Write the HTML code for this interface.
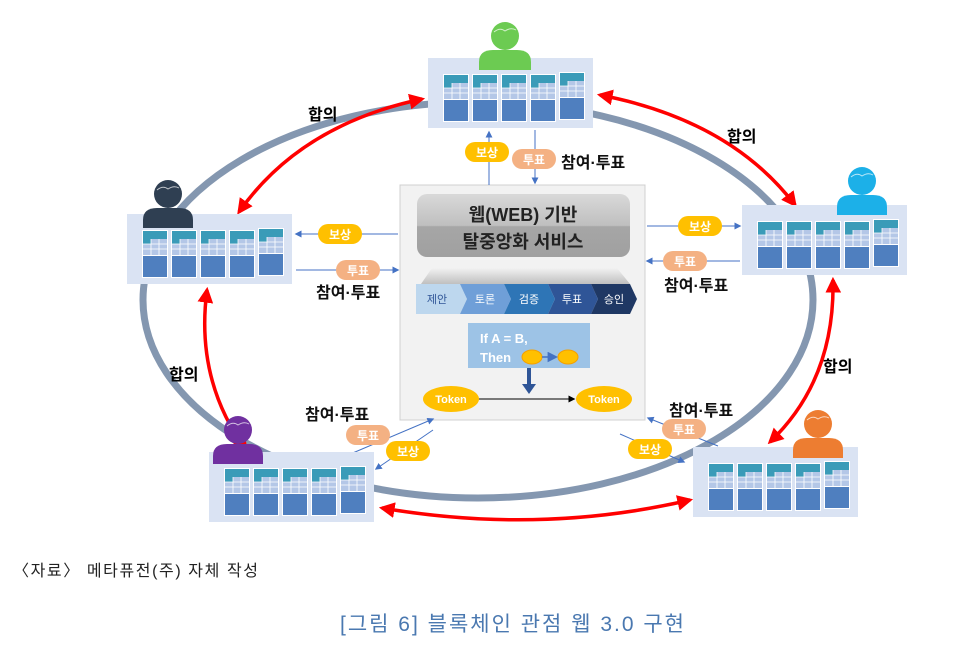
<!DOCTYPE html>
<html><head><meta charset="utf-8"><style>
html,body{margin:0;padding:0;background:#fff}
svg{display:block}
text{font-family:"Liberation Sans","Noto Sans CJK KR",sans-serif}
</style></head><body>
<svg width="957" height="669" viewBox="0 0 957 669" xmlns="http://www.w3.org/2000/svg">
<defs>
<marker id="ra" viewBox="0 0 10 10" refX="8" refY="5" markerWidth="4.5" markerHeight="4.5" orient="auto-start-reverse"><path d="M0,0L10,5L0,10z" fill="#f00"/></marker>
<marker id="ba" viewBox="0 0 10 10" refX="8" refY="5" markerWidth="7" markerHeight="7" orient="auto-start-reverse"><path d="M0,0L10,5L0,10z" fill="#4472c4"/></marker>
<marker id="ka" viewBox="0 0 10 10" refX="8" refY="5" markerWidth="7" markerHeight="7" orient="auto"><path d="M0,0L10,5L0,10z" fill="#000"/></marker>
<g id="blk">
 <rect x="0" y="0" width="26" height="48" fill="#fff"/>
 <rect x="1" y="1" width="24" height="8" fill="#3a9bb8"/>
 <rect x="1" y="9" width="24" height="16" fill="#b4c7e7"/>
 <rect x="1" y="9" width="8" height="5" fill="#3a9bb8"/>
 <path d="M1,14H25M1,19H25M9,9V25M17,9V25" stroke="#fff" stroke-width="0.8"/>
 <rect x="1" y="26" width="24" height="21" fill="#4f7fbf"/>
</g>
<g id="box">
 <rect x="0" y="0" width="165" height="70" fill="#dae3f3"/>
 <use href="#blk" x="15" y="16"/><use href="#blk" x="44" y="16"/><use href="#blk" x="73" y="16"/><use href="#blk" x="102" y="16"/><use href="#blk" x="131" y="14"/>
</g>
</defs>

<ellipse cx="478" cy="300" rx="335" ry="198" fill="none" stroke="#8497b0" stroke-width="7"/>

<g fill="none" stroke="#f00" stroke-width="3.5" marker-start="url(#ra)" marker-end="url(#ra)">
<path d="M422,99 Q300,125 239,212"/>
<path d="M600,95 Q730,120 795,205"/>
<path d="M207,290 Q195,380 246,450"/>
<path d="M833,280 Q835,380 770,442"/>
<path d="M382,508 Q540,535 690,500"/>
</g>
<text x="308" y="120" font-size="16" font-weight="bold">합의</text>
<text x="727" y="142" font-size="16" font-weight="bold">합의</text>
<text x="169" y="380" font-size="16" font-weight="bold">합의</text>
<text x="823" y="372" font-size="16" font-weight="bold">합의</text>

<rect x="400" y="185" width="245" height="235" fill="#f2f2f2" stroke="#d0d0d0"/>
<defs><linearGradient id="tg" x1="0" y1="0" x2="0" y2="1"><stop offset="0" stop-color="#d9d9d9"/><stop offset="0.5" stop-color="#bfbfbf"/><stop offset="0.52" stop-color="#a6a6a6"/><stop offset="1" stop-color="#a0a0a0"/></linearGradient>
<linearGradient id="sh" x1="0" y1="0" x2="0" y2="1"><stop offset="0" stop-color="#f2f2f2"/><stop offset="1" stop-color="#bfbfbf"/></linearGradient></defs>
<rect x="417" y="194" width="213" height="63" rx="10" fill="url(#tg)"/>
<text x="523" y="221" font-size="18" font-weight="bold" text-anchor="middle" fill="#222">웹(WEB) 기반</text>
<text x="523" y="248" font-size="18" font-weight="bold" text-anchor="middle" fill="#222">탈중앙화 서비스</text>
<path d="M432,268 H617 L630,284 H421 Z" fill="url(#sh)"/>
<path d="M416,284 H460 L467,299 L460,314 H416 Z" fill="#bdd7ee"/>
<path d="M460,284 H504 L511,299 L504,314 H460 L467,299 Z" fill="#6f9fd8"/>
<path d="M504,284 H548 L555,299 L548,314 H504 L511,299 Z" fill="#2e75b6"/>
<path d="M548,284 H591 L598,299 L591,314 H548 L555,299 Z" fill="#2f5597"/>
<path d="M591,284 H630 L637,299 L630,314 H591 L598,299 Z" fill="#1f3864"/>
<g font-size="11" text-anchor="middle" fill="#fff"><text x="437" y="303" fill="#2f5597">제안</text><text x="485" y="303">토론</text><text x="529" y="303">검증</text><text x="572" y="303">투표</text><text x="614" y="303">승인</text></g>
<rect x="468" y="323" width="122" height="45" fill="#9dc3e6"/>
<text x="480" y="343" font-size="13" font-weight="bold" fill="#fff">If A = B,</text>
<text x="480" y="362" font-size="13" font-weight="bold" fill="#fff">Then</text>
<ellipse cx="532" cy="357" rx="10" ry="7" fill="#ffc000" stroke="#f4a000"/>
<ellipse cx="568" cy="357" rx="10" ry="7" fill="#ffc000" stroke="#f4a000"/>
<path d="M542,357H556" stroke="#4472c4" stroke-width="1.5" marker-end="url(#ba)"/>
<path d="M529,368V386" stroke="#2f5597" stroke-width="4"/><path d="M522,384L529,394L536,384Z" fill="#2f5597"/>
<path d="M478,399H574" stroke="#000" stroke-width="1" marker-end="url(#ka)"/>
<ellipse cx="451" cy="399" rx="28" ry="13" fill="#ffc000"/>
<ellipse cx="604" cy="399" rx="28" ry="13" fill="#ffc000"/>
<text x="451" y="403" font-size="11" font-weight="bold" fill="#fff" text-anchor="middle">Token</text>
<text x="604" y="403" font-size="11" font-weight="bold" fill="#fff" text-anchor="middle">Token</text>

<g stroke="#4472c4" stroke-width="1" fill="none">
<path d="M489,185V132" marker-end="url(#ba)"/>
<path d="M535,130V183" marker-end="url(#ba)"/>
<path d="M398,234H296" marker-end="url(#ba)"/>
<path d="M296,270H398" marker-end="url(#ba)"/>
<path d="M647,226H740" marker-end="url(#ba)"/>
<path d="M740,261H647" marker-end="url(#ba)"/>
<path d="M348,455L433,419" marker-end="url(#ba)"/>
<path d="M433,430L376,469" marker-end="url(#ba)"/>
<path d="M718,446L648,418" marker-end="url(#ba)"/>
<path d="M620,434L684,462" marker-end="url(#ba)"/>
</g>
<g font-size="12" font-weight="bold" text-anchor="middle" fill="#fff">
<rect x="465" y="142" width="44" height="20" rx="10" fill="#ffc000"/><text x="487" y="157">보상</text>
<rect x="512" y="149" width="44" height="20" rx="10" fill="#f4b183"/><text x="534" y="164">투표</text>
<rect x="318" y="224" width="44" height="20" rx="10" fill="#ffc000"/><text x="340" y="239">보상</text>
<rect x="336" y="260" width="44" height="20" rx="10" fill="#f4b183"/><text x="358" y="275">투표</text>
<rect x="678" y="216" width="44" height="20" rx="10" fill="#ffc000"/><text x="700" y="231">보상</text>
<rect x="663" y="251" width="44" height="20" rx="10" fill="#f4b183"/><text x="685" y="266">투표</text>
<rect x="346" y="425" width="44" height="20" rx="10" fill="#f4b183"/><text x="368" y="440">투표</text>
<rect x="386" y="441" width="44" height="20" rx="10" fill="#ffc000"/><text x="408" y="456">보상</text>
<rect x="662" y="419" width="44" height="20" rx="10" fill="#f4b183"/><text x="684" y="434">투표</text>
<rect x="628" y="439" width="44" height="20" rx="10" fill="#ffc000"/><text x="650" y="454">보상</text>
</g>
<g font-size="16" font-weight="bold" fill="#111">
<text x="561" y="168">참여·투표</text>
<text x="316" y="298">참여·투표</text>
<text x="664" y="291">참여·투표</text>
<text x="305" y="420">참여·투표</text>
<text x="669" y="416">참여·투표</text>
</g>

<use href="#box" x="428" y="58"/>
<use href="#box" x="127" y="214"/>
<use href="#box" x="742" y="205"/>
<use href="#box" x="209" y="452"/>
<use href="#box" x="693" y="447"/>

<g><circle cx="505" cy="36" r="14" fill="#6ccb52"/><path d="M479,70 V62 Q479,50 493,50 H517 Q531,50 531,62 V70 Z" fill="#6ccb52"/></g>
<g><circle cx="168" cy="194" r="14" fill="#2f3f52"/><path d="M143,228 V220 Q143,208 157,208 H179 Q193,208 193,220 V228 Z" fill="#2f3f52"/></g>
<g><circle cx="862" cy="181" r="14" fill="#1cb0e8"/><path d="M837,215 V207 Q837,195 851,195 H873 Q887,195 887,207 V215 Z" fill="#1cb0e8"/></g>
<g><circle cx="238" cy="430" r="14" fill="#7030a0"/><path d="M213,464 V456 Q213,444 227,444 H249 Q263,444 263,456 V464 Z" fill="#7030a0"/></g>
<g><circle cx="818" cy="424" r="14" fill="#ed7d31"/><path d="M793,458 V450 Q793,438 807,438 H829 Q843,438 843,450 V458 Z" fill="#ed7d31"/></g>
<g stroke="#fff" stroke-width="1" fill="none" opacity="0.7">
<path d="M494,32 Q500,27 505,31 Q511,27 516,30"/><path d="M157,190 Q163,185 168,189 Q174,185 179,188"/><path d="M851,177 Q857,172 862,176 Q868,172 873,175"/><path d="M227,426 Q233,421 238,425 Q244,421 249,424"/><path d="M807,420 Q813,415 818,419 Q824,415 829,418"/>
</g>

<text x="13" y="576" font-size="16" fill="#222" textLength="245" lengthAdjust="spacing">〈자료〉 메타퓨전(주) 자체 작성</text>
<text x="340" y="631" font-size="21" fill="#4a78b0" textLength="344" lengthAdjust="spacing">[그림 6] 블록체인 관점 웹 3.0 구현</text>
</svg>
</body></html>
